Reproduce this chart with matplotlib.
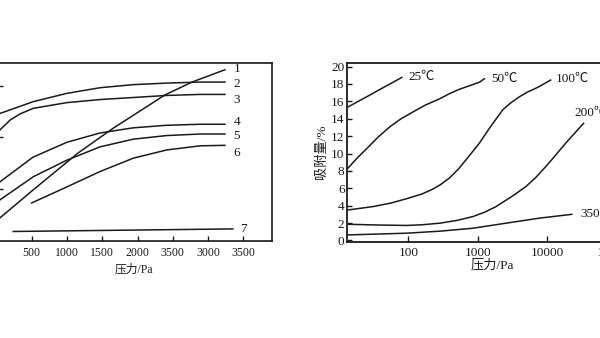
import numpy as np
import matplotlib
matplotlib.use("Agg")
import matplotlib.pyplot as plt
from matplotlib.ticker import FixedLocator, FixedFormatter, NullLocator

plt.rcParams['font.family'] = ['Liberation Serif', 'Noto Sans CJK SC', 'DejaVu Sans']

# ---- left panel: curves 1-7 (y axis labels are cut off in the source) ----
c1_p = [0, 51, 518, 1156, 1652, 2388, 2771, 3238]
c1_q = [3.7, 4.3, 9.7, 16.9, 21.7, 28.2, 30.7, 33.1]
c2_p = [0, 51, 523, 996, 1467, 1939, 2412, 2884, 3238]
c2_q = [24.3, 24.6, 26.9, 28.5, 29.6, 30.2, 30.5, 30.7, 30.7]
c3_p = [0, 51, 193, 334, 523, 996, 1467, 1939, 2412, 2884, 3238]
c3_q = [20.6, 21.4, 23.3, 24.5, 25.6, 26.7, 27.3, 27.7, 28.1, 28.3, 28.3]
c4_p = [0, 51, 518, 1000, 1467, 1935, 2416, 2884, 3238]
c4_q = [10.7, 11.3, 16.1, 19.0, 20.8, 21.8, 22.3, 22.5, 22.5]
c5_p = [0, 51, 523, 996, 1467, 1939, 2412, 2884, 3238]
c5_q = [7.2, 7.8, 12.3, 15.5, 18.1, 19.6, 20.3, 20.6, 20.6]
c6_p = [500, 996, 1467, 1939, 2412, 2884, 3238]
c6_q = [7.2, 10.3, 13.3, 15.9, 17.5, 18.3, 18.4]
c7_p = [239, 1800, 3350]
c7_q = [1.65, 1.9, 2.15]
left_curves = [(c1_p, c1_q), (c2_p, c2_q), (c3_p, c3_q), (c4_p, c4_q),
               (c5_p, c5_q), (c6_p, c6_q), (c7_p, c7_q)]
left_names = ["1", "2", "3", "4", "5", "6", "7"]
left_name_y = [33.2, 30.4, 27.3, 23.0, 20.2, 17.0, 2.1]
left_ticks = [500, 1000, 1500, 2000, 2500, 3000, 3500]
left_ticklabels = ["500", "1000", "1500", "2000", "3500", "3000", "3500"]

# ---- right panel: adsorption (%) vs pressure (Pa, log) ----
t25_p = [13.5, 25.5, 44, 80.5]
t25_q = [15.35, 16.55, 17.6, 18.75]
t50_p = [13.5, 18.5, 25.5, 36.9, 54.8, 78.7, 117.8, 179, 284, 394, 548, 760, 1057, 1247]
t50_q = [8.3, 9.5, 10.6, 11.9, 13.1, 14.0, 14.8, 15.6, 16.3, 16.9, 17.4, 17.8, 18.2, 18.6]
t100_p = [13.5, 31.6, 56.2, 94.8, 158.5, 225, 295, 393, 525, 682, 1057, 1469,
          2275, 2951, 3926, 5129, 6823, 8913, 11190]
t100_q = [3.5, 3.9, 4.3, 4.8, 5.35, 5.9, 6.45, 7.2, 8.2, 9.3, 11.2, 12.9,
          15.0, 15.8, 16.5, 17.05, 17.5, 18.0, 18.45]
t200_p = [13.5, 31.6, 94.8, 158.5, 284, 501, 849, 1259, 1832, 3170, 4909, 6761,
          9484, 13180, 18320, 24550, 33420]
t200_q = [1.86, 1.78, 1.72, 1.8, 1.98, 2.3, 2.74, 3.25, 3.89, 5.11, 6.18, 7.2,
          8.48, 9.8, 11.17, 12.3, 13.47]
t350_p = [13.5, 94.8, 282, 849, 2547, 7534, 22540]
t350_q = [0.63, 0.83, 1.06, 1.40, 1.98, 2.55, 3.0]
right_curves = [(t25_p, t25_q), (t50_p, t50_q), (t100_p, t100_q),
                (t200_p, t200_q), (t350_p, t350_q)]
right_names = ["25℃", "50℃", "100℃", "200℃", "350℃"]
right_name_pos = [(100, 18.83), (1549, 18.64), (13300, 18.64), (24900, 14.62), (30000, 3.0)]
right_yticks = [0, 2, 4, 6, 8, 10, 12, 14, 16, 18, 20]
right_xticks = [100, 1000, 10000, 100000]

ink = '#1a1a1a'
fig = plt.figure(figsize=(6, 3.38), dpi=100)
fig.patch.set_facecolor('white')

# left panel (its left edge runs off the picture)
ax1 = fig.add_axes([-0.006, 0.287, 0.4588, 0.528])
for (p, q) in left_curves:
    ax1.plot(p, q, color=ink, lw=1.1)
for name, y in zip(left_names, left_name_y):
    x = 3455 if name == "7" else 3360
    ax1.text(x, y, name, fontsize=9.5, color=ink, ha='left', va='center')
ax1.set_xlim(0, 3900)
ax1.set_ylim(-0.2, 34.5)
ax1.xaxis.set_major_locator(FixedLocator(left_ticks))
ax1.xaxis.set_major_formatter(FixedFormatter(left_ticklabels))
ax1.yaxis.set_major_locator(FixedLocator([10, 20, 30]))
ax1.set_yticklabels([])
ax1.tick_params(axis='x', direction='in', length=3.5, width=1, labelsize=8.5, pad=4, colors=ink)
ax1.tick_params(axis='y', direction='in', length=5, width=1, colors=ink)
ax1.set_xlabel("压力/Pa", fontsize=8.5, labelpad=4, color=ink)
for s in ax1.spines.values():
    s.set_linewidth(1.2)
    s.set_color(ink)

# right panel (its right edge runs off the picture)
ax2 = fig.add_axes([0.5788, 0.2849, 0.4838, 0.5296])
for (p, q) in right_curves:
    ax2.plot(p, q, color=ink, lw=1.1)
for name, (x, y) in zip(right_names, right_name_pos):
    ax2.text(x, y, name, fontsize=9.5, color=ink, ha='left', va='center', clip_on=False)
ax2.set_xscale('log')
ax2.set_xlim(10 ** 1.122, 10 ** 5.3)
ax2.set_ylim(-0.15, 20.45)
ax2.xaxis.set_major_locator(FixedLocator(right_xticks))
ax2.xaxis.set_major_formatter(FixedFormatter([str(v) for v in right_xticks]))
ax2.xaxis.set_minor_locator(NullLocator())
ax2.set_yticks(right_yticks)
ax2.tick_params(axis='x', direction='in', length=4, width=1, labelsize=9.5, pad=3.5, colors=ink)
ax2.tick_params(axis='y', direction='in', length=3.5, width=1, labelsize=9.5, pad=2, colors=ink)
ax2.set_xlabel("压力/Pa", fontsize=9.5, labelpad=0, color=ink)
ax2.set_ylabel("吸附量/%", fontsize=9.5, labelpad=2, color=ink)
for s in ax2.spines.values():
    s.set_linewidth(1.3)
    s.set_color(ink)

fig.savefig("out.png", dpi=100, facecolor='white')
